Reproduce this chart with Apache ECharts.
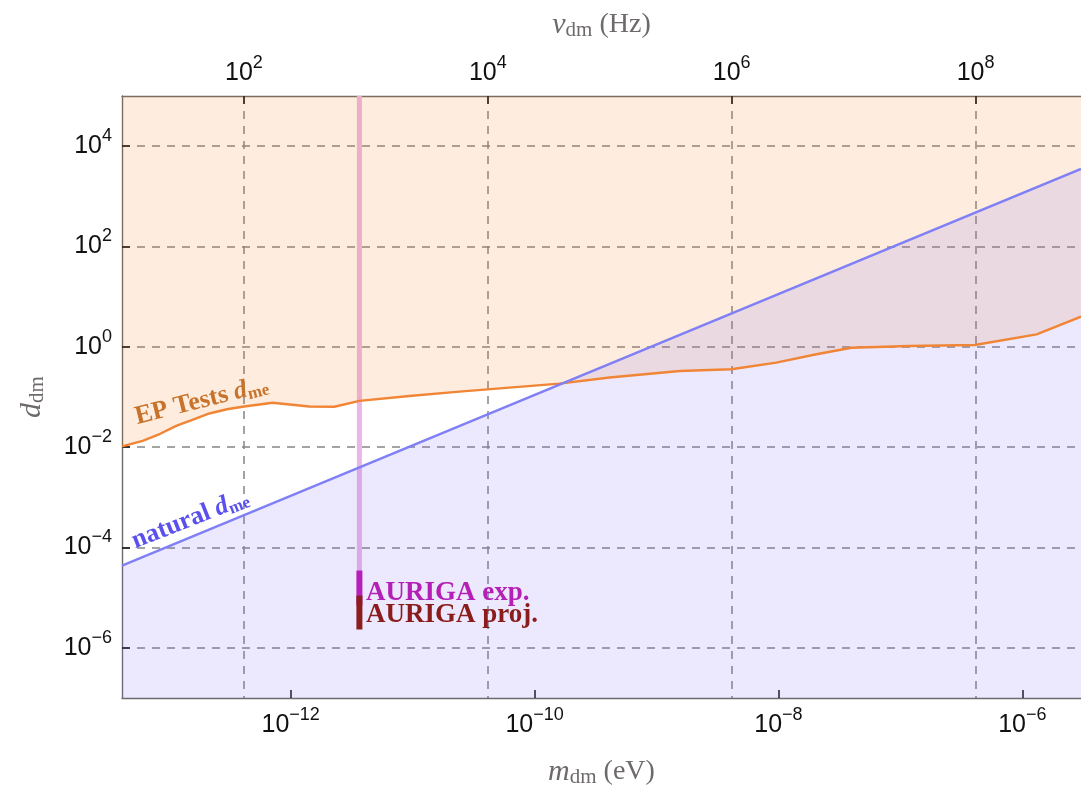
<!DOCTYPE html>
<html>
<head>
<meta charset="utf-8">
<script src="https://cdn.jsdelivr.net/npm/echarts@6/dist/echarts.min.js"></script>
<style>
html,body{margin:0;padding:0;background:#ffffff;}
#chart{width:1081px;height:793px;}
</style>
</head>
<body>
<div id="chart"></div>
<script>
// ---------- data (real units) ----------
const PLANCK_EV_S = 4.135667696e-15;          // m = h * nu
const massRange = [4.1357e-14, 3.03e-6];       // eV, visible x range
const dRange = [1e-7, 1e5];                    // visible y range
const massTicks = [1e-12, 1e-10, 1e-8, 1e-6];  // bottom tick labels
const freqTicks = [1e2, 1e4, 1e6, 1e8];        // top tick labels (Hz)
const dTicks = [1e-6, 1e-4, 1e-2, 1e0, 1e2, 1e4];

// EP tests bound on d_me
const epMass = [4.14e-14, 6.1e-14, 8.5e-14, 1.15e-13, 1.6e-13, 2.15e-13, 3.0e-13, 4.16e-13, 7.1e-13,
                1.42e-12, 2.28e-12, 3.66e-12, 9.4e-12, 2.42e-11, 6.2e-11, 1.6e-10, 4.12e-10,
                1.55e-9, 4.11e-9, 9.6e-9, 2.05e-8, 3.97e-8, 1.19e-7, 4.08e-7, 1.31e-6, 3.03e-6];
const epD    = [0.0104, 0.0134, 0.0185, 0.0266, 0.036, 0.0469, 0.057, 0.0646, 0.0769,
                0.0646, 0.064, 0.0835, 0.105, 0.128, 0.154, 0.185, 0.244,
                0.330, 0.357, 0.485, 0.71, 0.96, 1.04, 1.09, 1.77, 3.99];

// natural d_me
const naturalMass = [4.1357e-14, 3.03e-6];
const naturalD    = [4.37e-5, 3510];

// AURIGA
const aurigaMass  = 3.66e-12;
const aurigaBandD = [1e5, 3.4e-5];
const aurigaExpD  = [3.47e-5, 6.98e-6];
const aurigaProjD = [1.10e-5, 2.32e-6];

// ---------- helpers ----------
const L = Math.log10;
const pairs = (xs, ys) => xs.map((x, i) => [L(x), L(ys[i])]);
const vline = (m, ds) => ds.map(d => [L(m), L(d)]);
const fOff = -L(PLANCK_EV_S);   // log10(nu) = log10(m) + fOff

const TXT = '#6e6a6a';
const SANS = '"Liberation Sans", Arial, sans-serif';
const SERIF = '"Liberation Serif", "Times New Roman", serif';
const EP_LINE = '#f08535';
const NAT_LINE = '#7f7ff6';

const powLabel = v => {
  const n = Math.round(v);
  return '{b|10}{e|' + (n < 0 ? '\u2212' : '') + Math.abs(n) + '}';
};
const powRich = {
  b: {fontSize: 25, fontFamily: SANS, color: '#111', lineHeight: 38},
  e: {fontSize: 18, fontFamily: SANS, color: '#111', lineHeight: 18, verticalAlign: 'top'}
};
const nameRich = {
  i: {fontSize: 30, fontFamily: SERIF, fontStyle: 'italic', color: TXT, lineHeight: 32},
  s: {fontSize: 21, fontFamily: SERIF, color: TXT, lineHeight: 21, verticalAlign: 'bottom'},
  u: {fontSize: 28, fontFamily: SERIF, color: TXT, lineHeight: 32}
};
const frameLine = {show: true, onZero: false, lineStyle: {color: '#6b6b6b', width: 1.4}};
const tick = vals => ({show: true, inside: true, length: 8, customValues: vals,
                       lineStyle: {color: '#111', width: 1.5}});
const dashed = {show: true, lineStyle: {color: '#858585', width: 1.5, type: [8, 7]}};

const chart = echarts.init(document.getElementById('chart'));
chart.setOption({
  animation: false,
  backgroundColor: '#ffffff',
  grid: {left: 122, right: 0, top: 96, bottom: 94, containLabel: false},
  xAxis: [
    {
      type: 'value', position: 'bottom',
      min: L(massRange[0]), max: L(massRange[1]),
      axisLine: frameLine,
      axisTick: tick(massTicks.map(L)),
      axisLabel: {customValues: massTicks.map(L), formatter: powLabel, rich: powRich, margin: 8},
      splitLine: {show: false},
      name: '{i|m}{s|dm}{u|\u00a0(eV)}', nameLocation: 'middle', nameGap: 58,
      nameTextStyle: {rich: nameRich}
    },
    {
      type: 'value', position: 'top',
      min: L(massRange[0]) + fOff, max: L(massRange[1]) + fOff,
      axisLine: frameLine,
      axisTick: tick(freqTicks.map(L)),
      axisLabel: {customValues: freqTicks.map(L), formatter: powLabel, rich: powRich, margin: 4},
      splitLine: dashed,
      name: '{i|\u03bd}{s|dm}{u|\u00a0(Hz)}', nameLocation: 'middle', nameGap: 55,
      nameTextStyle: {rich: nameRich}
    }
  ],
  yAxis: [{
    type: 'value', position: 'left',
    min: L(dRange[0]), max: L(dRange[1]),
    axisLine: frameLine,
    axisTick: tick(dTicks.map(L)),
    axisLabel: {customValues: dTicks.map(L), formatter: powLabel, rich: powRich, margin: 10},
    splitLine: dashed,
    name: '{i|d}{s|dm}', nameLocation: 'middle', nameGap: 74, nameRotate: 90,
    nameTextStyle: {rich: nameRich}
  }],
  series: [
    {
      name: 'AURIGA band', type: 'line', z: 1, xAxisIndex: 0, yAxisIndex: 0,
      data: vline(aurigaMass, aurigaBandD), symbol: 'none',
      lineStyle: {color: '#eab6e6', width: 5}
    },
    {
      name: 'EP Tests', type: 'line', xAxisIndex: 0, yAxisIndex: 0,
      data: pairs(epMass, epD), symbol: 'none', smooth: false,
      lineStyle: {color: EP_LINE, width: 2.4},
      areaStyle: {origin: 'end', color: 'rgba(245,125,20,0.2)'}
    },
    {
      name: 'natural', type: 'line', xAxisIndex: 0, yAxisIndex: 0,
      data: pairs(naturalMass, naturalD), symbol: 'none',
      lineStyle: {color: NAT_LINE, width: 2.4},
      areaStyle: {origin: 'start', color: 'rgba(125,110,245,0.21)'}
    },
    {
      name: 'AURIGA exp.', type: 'line', xAxisIndex: 0, yAxisIndex: 0,
      data: vline(aurigaMass, aurigaExpD), symbol: 'none',
      lineStyle: {color: '#b81fb8', width: 6}
    },
    {
      name: 'AURIGA proj.', type: 'line', xAxisIndex: 0, yAxisIndex: 0,
      data: vline(aurigaMass, aurigaProjD), symbol: 'none',
      lineStyle: {color: '#8b1d1d', width: 6}
    }
  ],
  graphic: [
    {
      type: 'text', x: 139, y: 431, rotation: 14 * Math.PI / 180, z: 100,
      style: {
        text: '{a|EP Tests }{d|d}{s|me}', verticalAlign: 'bottom', align: 'left',
        rich: {
          a: {fill: '#c8732c', fontSize: 26, fontWeight: 'bold', fontFamily: SERIF, lineHeight: 28},
          d: {fill: '#c8732c', fontSize: 26, fontWeight: 'bold', fontStyle: 'italic', fontFamily: SERIF, lineHeight: 28},
          s: {fill: '#c8732c', fontSize: 17, fontWeight: 'bold', fontFamily: SERIF, lineHeight: 17, verticalAlign: 'bottom'}
        }
      }
    },
    {
      type: 'text', x: 138, y: 555, rotation: 21.4 * Math.PI / 180, z: 100,
      style: {
        text: '{a|natural }{d|d}{s|me}', verticalAlign: 'bottom', align: 'left',
        rich: {
          a: {fill: '#5a50ee', fontSize: 26, fontWeight: 'bold', fontFamily: SERIF, lineHeight: 28},
          d: {fill: '#5a50ee', fontSize: 26, fontWeight: 'bold', fontStyle: 'italic', fontFamily: SERIF, lineHeight: 28},
          s: {fill: '#5a50ee', fontSize: 17, fontWeight: 'bold', fontFamily: SERIF, lineHeight: 17, verticalAlign: 'bottom'}
        }
      }
    },
    {
      type: 'text', x: 366, y: 607, z: 100,
      style: {text: 'AURIGA exp.', fill: '#b41fb6', fontSize: 27, fontWeight: 'bold',
              fontFamily: SERIF, verticalAlign: 'bottom', align: 'left'}
    },
    {
      type: 'text', x: 366, y: 629, z: 100,
      style: {text: 'AURIGA proj.', fill: '#8b1c1c', fontSize: 27, fontWeight: 'bold',
              fontFamily: SERIF, verticalAlign: 'bottom', align: 'left'}
    }
  ]
});
</script>
</body>
</html>
